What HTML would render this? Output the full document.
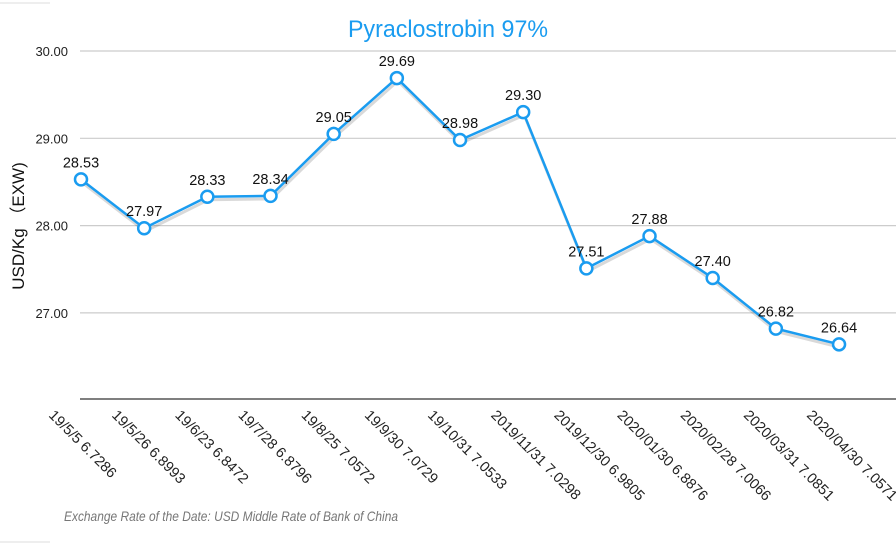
<!DOCTYPE html>
<html><head><meta charset="utf-8"><style>
html,body{margin:0;padding:0;background:#fff;}
svg{display:block;font-family:"Liberation Sans",sans-serif;}
</style></head><body>
<svg id="chart" width="896" height="545" viewBox="0 0 896 545">
<line x1="0" y1="3" x2="50" y2="3" stroke="#ddd"/>
<line x1="0" y1="542" x2="50" y2="542" stroke="#ddd"/>
<text x="448" y="37" text-anchor="middle" font-size="24" fill="#1a9cf0" textLength="200" lengthAdjust="spacingAndGlyphs">Pyraclostrobin 97%</text>
<text transform="translate(24,226) rotate(-90)" text-anchor="middle" font-size="17" fill="#111">USD/Kg （EXW)</text>
<text x="64" y="521" font-size="14" font-style="italic" fill="#777" textLength="334" lengthAdjust="spacingAndGlyphs">Exchange Rate of the Date: USD Middle Rate of Bank of China</text>
<g id="grid"></g><g id="xl"></g><g id="line"></g>
</svg>
<script>
const categories=["19/5/5 6.7286","19/5/26 6.8993","19/6/23 6.8472","19/7/28 6.8796","19/8/25 7.0572","19/9/30 7.0729","19/10/31 7.0533","2019/11/31 7.0298","2019/12/30 6.9805","2020/01/30 6.8876","2020/02/28 7.0066","2020/03/31 7.0851","2020/04/30 7.0571"];
const values=[28.53,27.97,28.33,28.34,29.05,29.69,28.98,29.30,27.51,27.88,27.40,26.82,26.64];
const yTicks=[27,28,29,30];
const NS="http://www.w3.org/2000/svg";
const x0=81,dx=63.17,yBase=399;
const xs=i=>x0+i*dx;
const ys=v=>51+(30-v)*87.3;
function mk(t,a,p){const e=document.createElementNS(NS,t);for(const k in a)e.setAttribute(k,a[k]);p.appendChild(e);return e;}
const g=document.getElementById('grid');
yTicks.forEach(t=>{
 const l=mk('line',{x1:80,x2:896,y1:ys(t),y2:ys(t),stroke:'#ccc','stroke-width':1.2},g);
 
 
 const tx=mk('text',{x:68,y:ys(t)+5,'text-anchor':'end','font-size':13,fill:'#222'},g);
 tx.textContent=t.toFixed(2);
 
 
});
const ax=mk('line',{x1:80,x2:896,y1:yBase,y2:yBase,stroke:'#555','stroke-width':1.5},g);


const xl=document.getElementById('xl');
categories.forEach((c,i)=>{
 const t=mk('text',{transform:`translate(${xs(i)-33},${yBase+17}) rotate(45)`,'font-size':14.5,fill:'#222'},xl);
 t.textContent=c;
 
 
});
const lg=document.getElementById('line');
const pts=values.map((v,i)=>xs(i)+','+ys(v)).join(' ');
const sh=mk('polyline',{points:pts,fill:'none',stroke:'#000','stroke-opacity':0.15,'stroke-width':3,transform:'translate(1,3)'},lg);


const pl=mk('polyline',{points:pts,fill:'none',stroke:'#1a9cf0','stroke-width':2.5},lg);


values.forEach((v,i)=>{
 const c=mk('circle',{cx:xs(i),cy:ys(v),r:6,fill:'#fff',stroke:'#1a9cf0','stroke-width':2.5},lg);
 
 
 const t=mk('text',{x:xs(i),y:ys(v)-12,'text-anchor':'middle','font-size':14.5,fill:'#111'},lg);
 t.textContent=v.toFixed(2);
 
 
});
</script>
</body></html>
